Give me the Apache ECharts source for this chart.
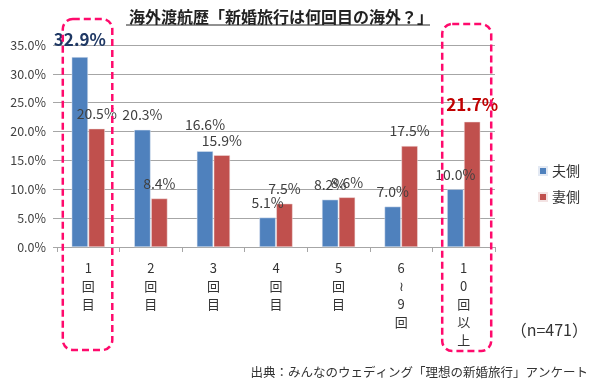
<!DOCTYPE html>
<html>
<head>
<meta charset="utf-8">
<script src="https://cdn.jsdelivr.net/npm/echarts@6/dist/echarts.min.js"></script>
<style>html,body{margin:0;padding:0;background:#fff}#c{width:600px;height:387px}</style>
</head>
<body>
<div id="c"></div>
<script>
const categories = ['1回目', '2回目', '3回目', '4回目', '5回目', '6〜9回', '10回以上'];
const husband = [32.9, 20.3, 16.6, 5.1, 8.2, 7.0, 10.0];
const wife = [20.5, 8.4, 15.9, 7.5, 8.6, 17.5, 21.7];
const seriesNames = ['夫側', '妻側'];
const yTicks = [0, 5, 10, 15, 20, 25, 30, 35];
const titleText = '海外渡航歴「新婚旅行は何回目の海外？」';
const sourceText = '出典：みんなのウェディング「理想の新婚旅行」アンケート';
const noteText = '（n=471）';

const FONT = '"Noto Sans CJK JP", "Noto Sans", sans-serif';
const chart = echarts.init(document.getElementById('c'), null, {renderer: 'canvas'});

function fmt(v) { return v.toFixed(1) + '%'; }

const hData = husband.map((v, i) => {
  const d = {value: v};
  if (i === 0) d.label = {fontSize: 17, fontWeight: 'bold', color: '#1F3864', distance: 9};
  if (i === 2) d.label = {offset: [0, -12]};
  return d;
});
const wData = wife.map((v, i) => {
  const d = {value: v};
  if (i === 6) d.label = {fontSize: 17, fontWeight: 'bold', color: '#C00000', distance: 9};
  return d;
});

const baseLabel = {
  show: true, position: 'top', distance: 8, color: '#404040',
  fontSize: 14, fontFamily: FONT, formatter: p => fmt(p.value)
};

chart.setOption({
  animation: false,
  backgroundColor: '#fff',
  title: {
    text: titleText, left: 124, top: 4,
    textStyle: {fontSize: 16, fontWeight: 'bold', color: '#222', fontFamily: FONT}
  },
  grid: {left: 57, right: 105, top: 45, bottom: 140},
  legend: {
    orient: 'vertical', left: 533, top: 159, itemWidth: 8, itemHeight: 8, itemGap: 12,
    icon: 'rect', textStyle: {fontSize: 14, color: '#333', fontFamily: FONT},
    data: seriesNames
  },
  xAxis: {
    type: 'category', data: categories,
    axisLine: {lineStyle: {color: '#A6A6A6'}},
    axisTick: {show: true, length: 5, lineStyle: {color: '#A6A6A6'}},
    axisLabel: {
      interval: 0, margin: 12, lineHeight: 18, fontSize: 13, color: '#333', fontFamily: FONT,
      formatter: v => Array.from(v).map(c => c === '〜' ? '≀' : c).join('\n'),
      verticalAlign: 'top'
    }
  },
  yAxis: {
    type: 'value', min: yTicks[0], max: yTicks[yTicks.length - 1], interval: 5,
    axisLine: {show: false},
    axisTick: {show: true, length: 4, lineStyle: {color: '#A6A6A6'}},
    splitLine: {lineStyle: {color: '#A6A6A6'}},
    axisLabel: {fontSize: 12.5, color: '#404040', fontFamily: FONT, margin: 11, formatter: v => v.toFixed(1) + '%'}
  },
  series: [
    {name: seriesNames[0], type: 'bar', data: hData, barCategoryGap: '47%', barGap: '4%',
     itemStyle: {color: '#4F81BD', borderColor: '#E3E9F3', borderWidth: 0.5}, label: baseLabel},
    {name: seriesNames[1], type: 'bar', data: wData,
     itemStyle: {color: '#C0504D', borderColor: '#F3E3E3', borderWidth: 0.5}, label: baseLabel}
  ]
});

const c0 = chart.convertToPixel({xAxisIndex: 0}, categories[0]);
const c6 = chart.convertToPixel({xAxisIndex: 0}, categories[6]);
const pink = {stroke: '#FF0A6C', lineWidth: 2.5, lineDash: [7, 4], fill: 'none'};
chart.setOption({
  graphic: [
    {type: 'line', shape: {x1: 126, y1: 25, x2: 430, y2: 25}, style: {stroke: '#222', lineWidth: 1}},
    {type: 'rect', shape: {x: c0 - 25.5, y: 19, width: 49.5, height: 331, r: 10}, style: pink, z: 10},
    {type: 'rect', shape: {x: c6 - 21.5, y: 24, width: 49, height: 327, r: 10}, style: pink, z: 10},
    {type: 'text', right: 12, top: 322, style: {text: noteText, fill: '#333', font: '16px ' + FONT}},
    {type: 'text', right: 12, top: 366, style: {text: sourceText, fill: '#333', font: '12.5px ' + FONT}}
  ]
});
</script>
</body>
</html>
